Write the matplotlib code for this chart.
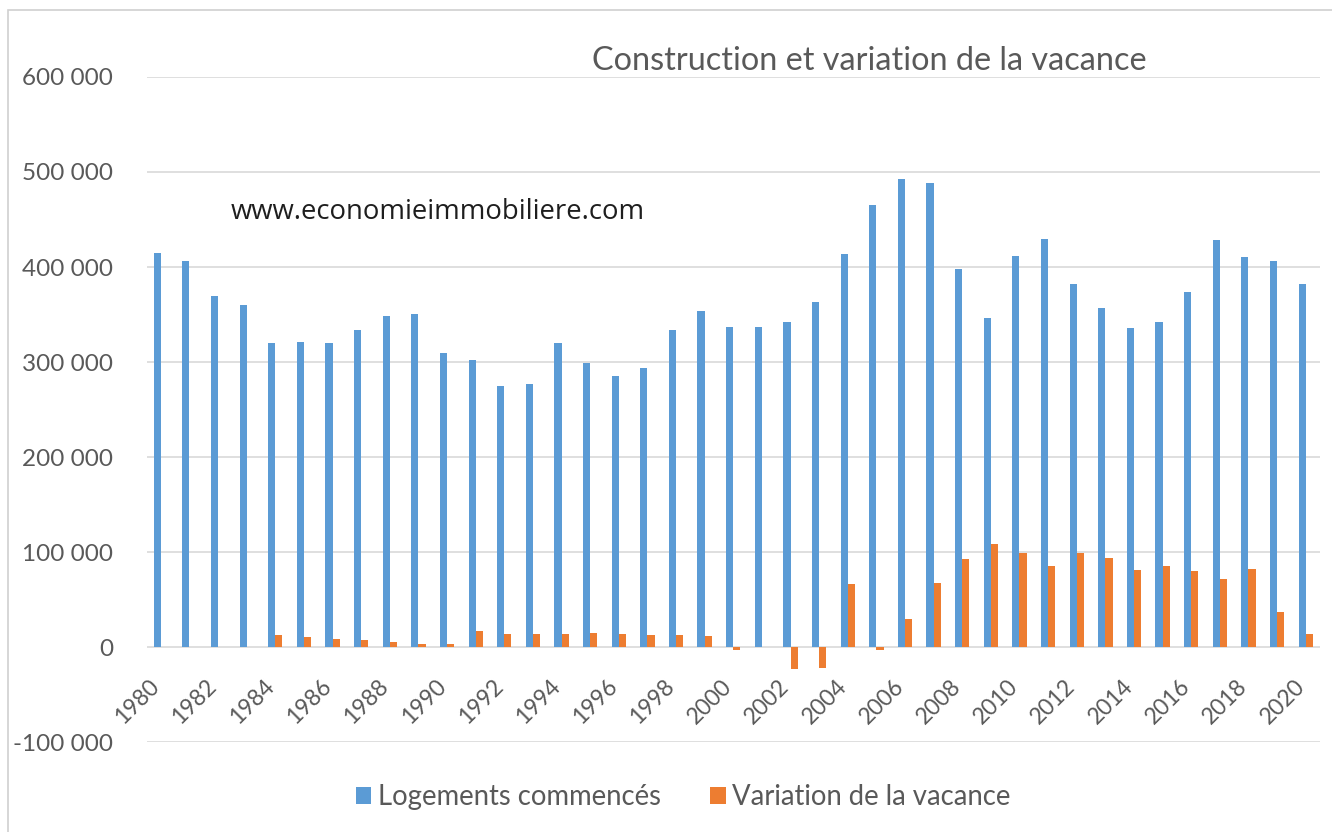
import numpy as np
import matplotlib.pyplot as plt
from matplotlib.patches import Rectangle

years = list(range(1980, 2021))
logements = [415000, 406000, 369000, 360000, 320000, 321000, 320000, 334000, 348000, 351000,
             309000, 302000, 275000, 277000, 320000, 299000, 285000, 294000, 334000, 354000,
             337000, 337000, 342000, 363000, 414000, 465000, 493000, 488000, 398000, 346000,
             412000, 429000, 382000, 357000, 336000, 342000, 374000, 428000, 411000, 406000,
             382000]
vacance = [0, 0, 0, 0, 12400, 10500, 8300, 7500, 5600, 3800,
           3000, 17300, 14300, 14300, 13600, 15000, 13600, 13200, 12400, 11700,
           -3000, 0, -23300, -21800, 66600, -3000, 29400, 67000, 93000, 108000,
           99000, 85000, 99000, 94000, 81000, 85000, 80000, 71500, 82000, 37000,
           13600]
yticks = [-100000, 0, 100000, 200000, 300000, 400000, 500000, 600000]

BLUE = '#5B9BD5'
ORANGE = '#ED7D31'
GREY = '#595959'
FONT = ['Lato', 'DejaVu Sans']

plt.rcParams['font.family'] = FONT

fig = plt.figure(figsize=(13.32, 8.32), dpi=100)
ax = fig.add_axes([0.110, 0.108, 0.881, 0.7995])

x = np.arange(len(years))
w = 0.25
ax.bar(x - w / 2, logements, width=w, color=BLUE, label='Logements commencés', zorder=3)
ax.bar(x + w / 2, vacance, width=w, color=ORANGE, label='Variation de la vacance', zorder=3)

# axis line at zero (must come before tick formatting, it resets ticks)
for s in ['top', 'right', 'left']:
    ax.spines[s].set_visible(False)
ax.spines['bottom'].set_position(('data', 0))
ax.spines['bottom'].set_color('none')

ax.set_xlim(-0.5, len(years) - 0.5)
ax.set_ylim(-100000, 600000)
ax.set_yticks(yticks)
ax.set_yticklabels([f'{v:,}'.replace(',', ' ') for v in yticks], color=GREY, fontsize=17.5)
ax.set_xticks(x[::2])
ax.set_xticklabels([str(y) for y in years[::2]], rotation=45, ha='right', va='baseline',
                   rotation_mode='anchor', color=GREY, fontsize=16.5)
ax.tick_params(axis='y', length=0, pad=24)
ax.tick_params(axis='x', length=0, pad=29)

ax.grid(axis='y', color='#D9D9D9', linewidth=1.2, zorder=0)

fig.text(0.653, 0.927, 'Construction et variation de la vacance', ha='center', va='center',
         color=GREY, fontsize=23.3)
ax.text(2.45, 458000, 'www.economieimmobiliere.com', ha='left', va='center',
        color='#1E1E1E', fontsize=19.8, family='Open Sans')

fig.legend(loc='center', bbox_to_anchor=(0.513, 0.042), ncol=2, frameon=False,
           fontsize=19.8, handlelength=0.55, handleheight=0.55, handletextpad=0.25,
           columnspacing=1.8, labelcolor=GREY)

fig.patches.append(Rectangle((0.006, -0.01), 1.0, 0.998, transform=fig.transFigure,
                             fill=False, edgecolor='#D0D0D0', linewidth=1.2))

fig.savefig('out.png', dpi=100, facecolor='white')
